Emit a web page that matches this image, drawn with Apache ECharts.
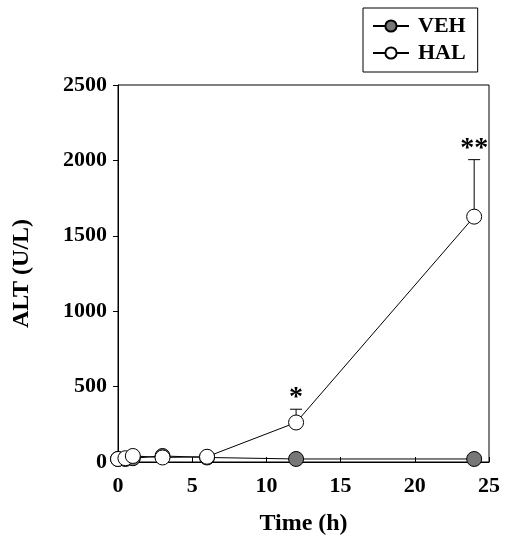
<!DOCTYPE html>
<html><head><meta charset="utf-8">
<script src="https://cdn.jsdelivr.net/npm/echarts@6/dist/echarts.min.js"></script>
<style>html,body{margin:0;padding:0;background:#fff}#c{width:509px;height:536px}</style>
</head><body><div id="c"></div>
<script>
const times = [0, 0.5, 1, 3, 6, 12, 24];
const vehValues = [20, 20, 25, 40, 30, 20, 20];
const halValues = [20, 25, 40, 30, 35, 262, 1627];
const halErrUpper = [null, null, null, null, null, 350, 2005];
const sigTimes = [12, 24];
const sigLabels = ['*', '**'];
const sigValues = [350, 2005];
const xTicks = [0, 5, 10, 15, 20, 25];
const yTicks = [0, 500, 1000, 1500, 2000, 2500];

const FONT = 'Liberation Serif';
const chart = echarts.init(document.getElementById('c'));
const pair = (xs, ys) => xs.map((x, i) => [x, ys[i]]);
const errData = times.map((t, i) => [t, halValues[i], halErrUpper[i]]).filter(d => d[2] != null);

chart.setOption({
  animation: false,
  textStyle: { fontFamily: FONT },
  legend: {
    orient: 'vertical', left: 363, top: 8,
    padding: [7, 12, 8, 9], itemGap: 5,
    borderColor: '#000', borderWidth: 1,
    itemWidth: 36, itemHeight: 14,
    textStyle: { fontFamily: FONT, fontWeight: 'bold', fontSize: 22, color: '#000', padding: [0, 0, 0, 4] },
    data: ['VEH', 'HAL']
  },
  grid: { left: 118, right: 20, top: 85, bottom: 74, show: true, borderColor: '#000', borderWidth: 1,
    containLabel: false, outerBoundsMode: 'none' },
  xAxis: {
    type: 'value', min: 0, max: 25, interval: 5,
    name: 'Time (h)', nameLocation: 'middle', nameGap: 50,
    nameTextStyle: { fontFamily: FONT, fontWeight: 'bold', fontSize: 24, color: '#000' },
    axisLine: { lineStyle: { color: '#000' } },
    axisTick: { inside: true, length: 5, lineStyle: { color: '#000' } },
    axisLabel: { fontFamily: FONT, fontWeight: 'bold', fontSize: 22, color: '#000', margin: 13,
      formatter: v => xTicks.includes(v) ? String(v) : '' },
    splitLine: { show: false }
  },
  yAxis: {
    type: 'value', min: 0, max: 2500, interval: 500,
    name: 'ALT (U/L)', nameLocation: 'middle', nameGap: 84, nameRotate: 90,
    nameTextStyle: { fontFamily: FONT, fontWeight: 'bold', fontSize: 24, color: '#000' },
    axisLine: { lineStyle: { color: '#000' } },
    axisTick: { inside: false, length: 5, lineStyle: { color: '#000' } },
    axisLabel: { fontFamily: FONT, fontWeight: 'bold', fontSize: 22, color: '#000', margin: 11,
      formatter: v => yTicks.includes(v) ? String(v) : '' },
    splitLine: { show: false }
  },
  series: [
    {
      name: 'VEH', type: 'line', data: pair(times, vehValues),
      symbol: 'circle', symbolSize: 15, z: 2,
      lineStyle: { color: '#000', width: 1 },
      itemStyle: { color: '#777', borderColor: '#000', borderWidth: 1 }
    },
    {
      name: 'HAL-err', type: 'custom', data: errData, z: 3,
      renderItem: (params, api) => {
        const p0 = api.coord([api.value(0), api.value(1)]);
        const p1 = api.coord([api.value(0), api.value(2)]);
        return { type: 'group', children: [
          { type: 'line', shape: { x1: p0[0], y1: p0[1], x2: p1[0], y2: p1[1] }, style: { stroke: '#000', lineWidth: 1 } },
          { type: 'line', shape: { x1: p1[0] - 6, y1: p1[1], x2: p1[0] + 6, y2: p1[1] }, style: { stroke: '#000', lineWidth: 1 } }
        ]};
      }
    },
    {
      name: 'HAL', type: 'line', data: pair(times, halValues),
      symbol: 'circle', symbolSize: 15, z: 4,
      lineStyle: { color: '#000', width: 1 },
      itemStyle: { color: '#fff', borderColor: '#000', borderWidth: 1 }
    },
    {
      name: 'sig', type: 'custom', z: 5,
      data: sigTimes.map((t, i) => [t, sigValues[i]]),
      renderItem: (params, api) => {
        const p = api.coord([api.value(0), api.value(1)]);
        return { type: 'text', x: p[0], y: p[1] + 3, style: {
          text: sigLabels[params.dataIndex], fontFamily: FONT, fontWeight: 'bold', fontSize: 28,
          fill: '#000', align: 'center', verticalAlign: 'bottom' } };
      }
    }
  ]
});
</script></body></html>
